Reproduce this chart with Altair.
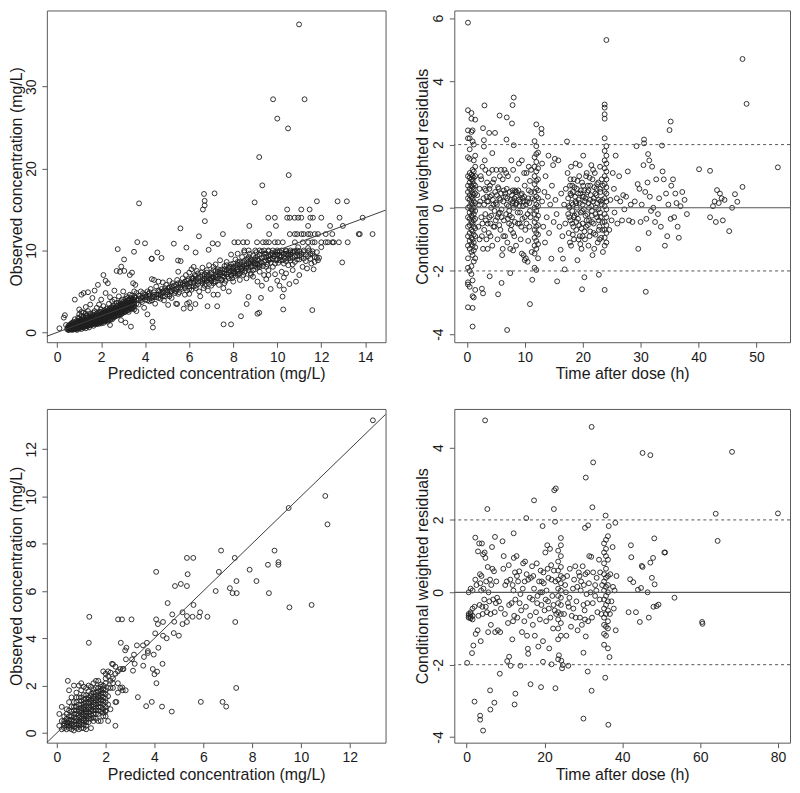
import altair as alt
import pandas as pd

FONT = "Liberation Sans"

# ---------------- Panel A (top left): observed vs predicted, dataset 1 ----------------
a_outliers = [
    (10.99, 37.6), (9.81, 28.46), (11.24, 28.46), (10.0, 26.1), (10.49, 24.9), (9.18, 21.4),
    (10.52, 19.2), (9.32, 17.95), (6.67, 16.9), (7.15, 16.97), (6.70, 16.06), (6.70, 15.5),
    (6.62, 15.0), (3.72, 15.75), (8.97, 15.87), (6.71, 13.58), (5.60, 12.7), (7.53, 12.0),
    (6.44, 11.73), (3.64, 11.02), (3.99, 10.87), (5.30, 10.83), (5.87, 10.35), (2.75, 10.16),
    (3.49, 9.84), (6.29, 9.76), (7.06, 10.87), (7.30, 10.79), (6.88, 10.08), (4.55, 9.76),
    (4.74, 9.09), (4.29, 8.98), (3.04, 8.9), (5.49, 8.78), (5.61, 8.70), (2.91, 8.03),
    (12.95, 8.54), (7.56, 0.98), (7.90, 0.98), (8.35, 1.97), (9.10, 2.28), (9.18, 2.4),
    (10.27, 2.8), (11.59, 2.72), (4.35, 0.59), (4.33, 1.3), (8.61, 3.46), (8.69, 4.33),
    (9.26, 4.21), (10.24, 4.37), (10.30, 5.24), (6.83, 3.19), (7.27, 3.19), (6.05, 2.95),
    (6.0, 3.66), (5.45, 3.46), (5.04, 3.35), (6.28, 3.46), (13.75, 12.0),
]
# observations reported as whole numbers: (observed, [predicted, ...])
a_rows = [
    (10, [8.5, 8.7, 9.0, 9.2, 9.4, 9.6, 9.8, 10.0, 10.2, 10.4, 10.6, 10.9, 11.2]),
    (11, [8.05, 8.22, 8.45, 8.63, 9.08, 9.35, 9.49, 9.62, 9.89, 10.03, 10.25, 10.8, 11.16,
          11.4, 11.6, 11.7, 12.0, 12.2, 12.3, 12.5, 12.56, 12.8, 13.2]),
    (12, [9.63, 10.57, 10.8, 10.9, 11.1, 11.2, 11.4, 11.5, 11.7, 11.85, 12.2, 12.5, 13.7, 14.33]),
    (13, [8.73, 9.94, 11.4, 12.4, 12.98]),
    (14, [9.59, 9.89, 10.45, 10.57, 10.79, 10.95, 11.09, 11.5, 11.62, 12.0, 12.83, 13.88]),
    (15, [10.45, 11.09, 11.47]),
    (16, [11.8, 12.74, 13.16]),
]
# dense cloud near the origin: (predicted, [observed, ...])
a_core = [
    (0.5, [0.35, 0.55, 0.75]), (0.6, [0.45, 0.65, 0.95]), (0.7, [0.4, 0.7, 1.2]),
    (0.8, [0.55, 0.95, 1.6]), (0.9, [0.5, 0.85, 1.15]), (1.0, [0.6, 0.95, 1.4, 1.7]),
    (1.1, [0.65, 1.2, 1.55, 2.5]), (1.2, [0.75, 1.05, 1.35, 1.9]), (1.3, [0.8, 1.15, 1.6, 2.3]),
    (1.4, [0.9, 1.25, 1.55, 1.85]), (1.5, [0.85, 1.15, 1.45, 1.75, 2.3]),
    (1.6, [1.0, 1.35, 1.55, 1.9]), (1.7, [1.0, 1.3, 1.6, 2.1]), (1.8, [1.1, 1.45, 1.75, 2.0]),
    (1.9, [1.05, 1.35, 1.7, 2.4]), (2.0, [1.3, 1.5, 1.85, 2.05, 2.5]),
    (2.1, [1.15, 1.6, 1.75, 2.2]), (2.2, [1.4, 1.65, 2.0, 2.4]), (2.3, [1.55, 1.85, 2.15, 2.7]),
    (2.4, [1.5, 2.0, 2.3, 2.9]), (2.5, [1.9, 2.1, 2.6, 3.1]), (2.6, [2.0, 2.2, 2.4, 2.9]),
    (2.7, [2.05, 2.35, 2.6, 3.2]), (2.8, [2.3, 2.55, 2.85, 3.6]), (2.9, [2.2, 2.45, 3.2, 3.8]),
    (3.0, [2.6, 2.75, 3.15, 3.7]), (3.1, [2.5, 3.0, 3.3, 4.1]), (3.2, [2.7, 3.3, 3.6, 4.2]),
    (3.3, [2.9, 3.1, 3.6, 4.0]), (3.4, [3.0, 3.3, 3.8, 4.5]), (3.5, [2.8, 3.5, 3.9, 4.3]),
    (0.55, [0.3, 0.45, 0.6, 0.9]), (0.65, [0.35, 0.55, 0.8, 1.05]),
    (0.75, [0.45, 0.65, 0.85, 1.0]), (0.85, [0.4, 0.6, 0.75, 1.2]),
    (0.95, [0.45, 0.65, 1.0, 1.25]), (1.05, [0.55, 0.85, 1.1, 1.3]),
    (1.15, [0.6, 0.95, 1.15, 1.7]), (1.25, [0.7, 1.0, 1.3, 1.5]),
    (1.35, [0.75, 1.05, 1.4, 2.1]), (1.45, [0.95, 1.2, 1.35, 1.7]),
    (1.55, [1.05, 1.25, 1.45, 2.0]), (1.65, [1.1, 1.3, 1.65, 2.4]),
    (1.75, [1.15, 1.4, 1.7, 1.85]), (1.85, [1.2, 1.5, 1.6, 2.2]),
    (1.95, [1.25, 1.55, 1.8, 2.15]), (2.05, [1.4, 1.6, 1.95, 2.35]),
    (2.15, [1.35, 1.7, 1.95, 2.45]), (2.25, [1.5, 1.8, 2.05, 2.6]),
    (2.35, [1.6, 1.95, 2.2, 2.75]), (2.45, [1.7, 2.05, 2.4, 2.65]),
    (2.55, [1.8, 2.15, 2.5, 3.0]), (2.65, [1.95, 2.25, 2.55, 2.85]),
    (2.75, [2.1, 2.4, 2.7, 3.3]), (2.85, [2.2, 2.6, 2.9, 3.4]),
    (2.95, [2.35, 2.65, 3.0, 3.5]), (3.05, [2.5, 2.85, 3.35]), (3.15, [2.65, 3.05, 3.6]),
    (3.25, [2.75, 3.2, 3.9]), (3.35, [2.9, 3.4, 4.2]), (3.45, [3.1, 3.6, 4.0]),
]
a_low = [
    (0.1, 0.5), (0.3, 1.8), (0.35, 2.1), (0.4, 0.9), (0.45, 0.4), (0.5, 0.3), (0.5, 0.6),
    (0.55, 0.5), (0.6, 0.8), (0.6, 0.4), (0.65, 0.7), (0.65, 1.1), (0.7, 0.3), (0.7, 0.5),
    (0.7, 0.9), (0.75, 0.6), (0.75, 1.3), (0.8, 0.4), (0.8, 0.8), (0.8, 4.0), (0.85, 1.0),
    (0.85, 0.5), (0.9, 0.7), (0.9, 1.4), (0.9, 0.3), (0.95, 0.9), (0.95, 1.8), (1.0, 0.5),
    (1.0, 1.1), (1.0, 2.2), (1.0, 0.8), (1.0, 2.8),
    (1.05, 0.7), (1.05, 1.5), (1.1, 0.4), (1.1, 1.0), (1.1, 2.0), (1.1, 4.6), (1.15, 1.3),
    (1.15, 0.8), (1.2, 0.6), (1.2, 1.6), (1.2, 2.4), (1.2, 4.8), (1.25, 1.1), (1.25, 0.9),
    (1.3, 1.4), (1.3, 0.5), (1.3, 2.0), (1.3, 3.1), (1.35, 1.2), (1.35, 1.8), (1.4, 0.8),
    (1.4, 1.0), (1.4, 2.6), (1.4, 4.9), (1.45, 1.5), (1.45, 0.6), (1.5, 1.3), (1.5, 1.9),
    (1.5, 1.0), (1.5, 3.4), (1.55, 1.6), (1.55, 0.9), (1.6, 1.2), (1.6, 2.2), (1.6, 1.7),
    (1.6, 4.2), (1.65, 1.4), (1.65, 0.8), (1.7, 1.8), (1.7, 1.1), (1.7, 2.6), (1.7, 5.1),
    (1.75, 1.5), (1.75, 2.0), (1.8, 1.3), (1.8, 1.0), (1.8, 2.3), (1.8, 3.0), (1.85, 1.7),
    (1.85, 5.8), (1.9, 1.5), (1.9, 2.1), (1.9, 1.2), (1.9, 3.4), (1.95, 1.9), (1.95, 2.5),
    (2.0, 1.6), (2.0, 1.1), (2.0, 2.2), (2.0, 2.8), (2.0, 4.0),
    (2.05, 1.8), (2.05, 1.3), (2.1, 2.4), (2.1, 2.0), (2.1, 7.0), (2.1, 3.2), (2.15, 1.5),
    (2.15, 2.7), (2.2, 1.9), (2.2, 2.2), (2.2, 6.3), (2.2, 4.8), (2.25, 1.7), (2.25, 2.9),
    (2.3, 2.1), (2.3, 2.5), (2.3, 1.3), (2.3, 6.0), (2.35, 3.5), (2.35, 2.3), (2.4, 1.8),
    (2.4, 2.6), (2.4, 4.3), (2.4, 0.9), (2.45, 2.0), (2.45, 3.0), (2.5, 2.4), (2.5, 2.8),
    (2.5, 1.6), (2.5, 3.8), (2.55, 2.2), (2.55, 3.3), (2.6, 2.6), (2.6, 1.9), (2.6, 4.0),
    (2.6, 5.1), (2.65, 3.0), (2.65, 2.3), (2.7, 2.8), (2.7, 3.6), (2.7, 7.5), (2.75, 2.5),
    (2.8, 3.2), (2.8, 2.1), (2.8, 4.4), (2.85, 3.0), (2.85, 7.4), (2.9, 2.7), (2.9, 3.5),
    (2.9, 1.5), (2.95, 3.1), (2.95, 4.0), (3.0, 2.9), (3.0, 3.4), (3.0, 2.4), (3.0, 5.0),
    (3.05, 3.2), (3.05, 7.5), (3.1, 3.7), (3.1, 2.8), (3.1, 1.2), (3.15, 3.4), (3.15, 4.4),
    (3.2, 3.0), (3.2, 3.9), (3.25, 3.6), (3.25, 2.5), (3.3, 3.3), (3.3, 4.6), (3.3, 7.0),
    (3.35, 3.8), (3.35, 0.7), (3.4, 3.5), (3.4, 2.9), (3.4, 7.3), (3.45, 4.1), (3.45, 6.0),
    (3.5, 3.7), (3.5, 3.2), (3.5, 5.0), (3.55, 4.3), (3.55, 5.8), (3.6, 3.9), (3.6, 4.8),
    (3.6, 2.6), (3.7, 4.5), (3.7, 3.4), (3.8, 4.2), (3.8, 5.0), (3.85, 3.7), (3.9, 4.4),
    (3.9, 4.8), (3.95, 3.0), (4.0, 4.6), (4.0, 4.0),
]
a_mid = [
    (4.05, 4.3), (4.1, 5.0), (4.1, 2.2), (4.15, 4.7), (4.2, 3.8), (4.2, 4.5), (4.25, 5.3),
    (4.3, 6.5), (4.3, 9.0), (4.35, 4.4), (4.4, 4.9), (4.4, 6.4), (4.45, 3.5), (4.5, 4.6),
    (4.5, 5.6), (4.6, 4.2), (4.6, 6.2), (4.65, 5.0), (4.7, 4.5), (4.75, 5.3), (4.8, 4.8),
    (4.8, 6.1), (4.85, 3.9), (4.9, 5.1), (4.9, 4.4), (4.95, 5.8), (5.0, 4.9), (5.05, 5.4),
    (5.1, 4.6), (5.1, 6.3), (5.15, 5.0), (5.2, 5.6), (5.2, 4.2), (5.25, 6.0), (5.3, 5.2),
    (5.35, 4.8), (5.4, 5.8), (5.4, 3.5), (5.45, 6.4), (5.5, 5.5), (5.5, 7.4), (5.55, 4.9),
    (5.6, 6.0), (5.65, 5.3), (5.7, 6.6), (5.75, 5.7), (5.75, 2.9), (5.8, 6.2), (5.8, 4.6),
    (5.85, 7.0), (5.9, 5.9), (5.9, 3.5), (5.95, 6.5), (6.0, 5.6), (6.0, 7.3), (6.0, 4.7),
    (6.05, 6.1), (6.1, 7.7), (6.1, 5.2), (6.15, 6.6), (6.2, 6.0), (6.2, 8.0), (6.25, 7.0),
    (6.3, 5.7), (6.3, 6.4), (6.35, 7.5), (6.4, 6.2), (6.45, 5.0), (6.5, 6.8), (6.5, 4.4),
    (6.55, 7.3), (6.6, 6.0), (6.6, 7.9), (6.65, 5.4), (6.7, 6.6), (6.7, 7.1), (6.75, 5.9),
    (6.8, 7.6), (6.8, 6.3), (6.85, 5.1), (6.9, 7.0), (6.9, 8.2), (6.95, 6.5), (7.0, 7.3),
    (7.0, 5.7), (7.05, 6.8), (7.1, 7.6), (7.1, 4.6), (7.15, 6.2), (7.2, 7.0), (7.2, 8.3),
    (7.25, 6.6), (7.3, 7.4), (7.3, 4.6), (7.35, 5.8), (7.4, 7.1), (7.4, 8.8), (7.45, 6.4),
    (7.5, 7.7), (7.5, 6.9), (7.55, 5.4), (7.6, 8.1), (7.6, 7.2), (7.65, 6.3), (7.7, 7.6),
    (7.7, 8.6), (7.75, 6.8), (7.8, 7.3), (7.8, 5.0), (7.85, 8.0), (7.9, 7.0), (7.9, 9.5),
    (7.95, 6.6), (8.0, 7.8), (8.0, 8.4), (8.0, 6.2),
]
a_high = [
    (8.05, 7.4), (8.1, 8.9), (8.1, 6.9), (8.15, 7.9), (8.2, 8.3), (8.2, 9.6), (8.25, 7.1),
    (8.3, 8.6), (8.3, 6.4), (8.35, 7.7), (8.4, 9.2), (8.4, 8.0), (8.45, 7.0), (8.5, 8.7),
    (8.5, 9.8), (8.55, 7.5), (8.6, 8.3), (8.6, 6.6), (8.65, 9.0), (8.7, 7.9), (8.7, 8.6),
    (8.75, 9.6), (8.8, 7.2), (8.8, 8.9), (8.85, 8.1), (8.9, 9.4), (8.9, 6.8), (8.95, 8.5),
    (9.0, 7.7), (9.0, 9.1), (9.05, 9.8), (9.1, 8.3), (9.1, 6.2), (9.15, 8.8), (9.2, 7.4),
    (9.2, 9.5), (9.25, 8.6), (9.3, 9.9), (9.3, 5.7), (9.35, 8.1), (9.4, 9.2), (9.4, 7.0),
    (9.45, 8.8), (9.5, 9.6), (9.5, 6.5), (9.55, 8.3), (9.6, 9.9), (9.6, 7.6), (9.65, 9.0),
    (9.7, 8.5), (9.7, 5.3), (9.75, 9.7), (9.8, 8.0), (9.85, 9.3), (9.9, 7.1), (9.9, 9.8),
    (9.95, 8.8), (10.0, 9.5), (10.0, 6.3), (10.05, 8.5), (10.1, 9.9), (10.1, 5.7),
    (10.15, 9.2), (10.2, 7.4), (10.25, 8.8), (10.3, 9.6), (10.3, 6.7), (10.35, 9.0),
    (10.4, 7.2), (10.5, 9.4), (10.5, 8.2), (10.55, 5.9), (10.6, 9.8), (10.6, 8.8),
    (10.7, 9.1), (10.7, 7.6), (10.75, 9.9), (10.8, 8.6), (10.85, 6.2), (10.9, 9.3),
    (10.95, 10.4), (11.0, 8.9), (11.0, 7.0), (11.1, 9.6), (11.15, 8.0), (11.2, 9.0),
    (11.3, 9.5), (11.35, 7.8), (11.4, 10.3), (11.5, 9.0), (11.55, 8.4), (11.6, 9.9),
    (11.65, 7.7), (11.7, 9.2), (11.8, 9.8), (11.85, 8.8), (11.9, 9.1), (12.0, 10.4),
    (11.45, 10.0),
]
a_band = [
    (3.6, 3.5), (3.7, 4.1), (3.8, 3.9), (3.9, 4.2), (4.0, 4.3), (4.1, 3.9), (4.2, 4.9),
    (4.3, 4.2), (4.4, 4.6), (4.5, 4.3), (4.6, 5.1), (4.7, 4.8), (4.8, 4.4), (4.9, 5.4),
    (5.0, 5.1), (5.1, 5.5), (5.2, 5.0), (5.3, 5.7), (5.4, 5.3), (5.5, 6.0), (5.6, 5.5),
    (5.7, 5.9), (5.8, 5.4), (5.9, 6.3), (6.0, 6.0), (6.1, 6.6), (6.2, 5.6), (6.3, 6.9),
    (6.4, 6.6), (6.5, 6.2), (6.6, 7.0), (6.7, 6.4), (6.8, 6.9), (6.9, 6.6), (7.0, 7.1),
    (7.1, 6.7), (7.2, 7.5), (7.3, 6.9), (7.4, 7.6), (7.5, 7.3), (7.6, 7.7), (7.7, 7.1),
    (7.8, 7.9), (7.9, 7.5), (8.0, 7.2), (8.1, 8.1), (8.2, 7.7), (8.3, 8.3), (8.4, 7.5),
    (8.5, 8.2), (8.6, 8.9), (8.7, 8.4), (8.8, 8.0), (8.9, 8.7), (9.0, 8.4), (9.1, 8.9),
    (9.2, 8.2), (9.3, 9.1), (9.4, 8.6), (9.5, 9.2), (9.6, 8.8), (9.7, 9.4), (9.8, 9.0),
    (9.9, 9.5), (10.0, 8.9), (10.1, 9.4), (10.2, 9.7), (10.3, 9.2), (10.4, 9.6), (10.5, 9.0),
    (10.6, 9.5), (10.7, 9.8), (10.8, 9.3), (10.9, 9.7), (11.0, 9.4), (11.2, 9.8), (11.4, 9.3),
    (11.6, 9.6), (11.8, 9.1),
    (6.2, 6.3), (6.4, 7.2), (6.6, 6.5), (6.8, 7.3), (7.0, 6.3), (7.1, 8.0), (7.3, 7.7),
    (7.4, 6.6), (7.6, 7.5), (7.7, 8.2), (7.8, 6.6), (7.9, 8.3), (8.0, 7.5), (8.1, 7.2),
    (8.2, 8.6), (8.3, 7.9), (8.4, 8.5), (8.5, 7.3), (8.6, 7.9), (8.7, 9.2), (8.8, 8.4),
    (8.9, 7.6), (9.0, 8.8), (9.1, 9.3), (9.2, 8.0), (9.3, 8.5), (9.4, 9.6), (9.5, 8.0),
    (9.6, 9.3), (9.7, 8.9), (9.8, 9.5), (9.9, 8.4), (10.0, 9.8), (10.1, 8.8), (10.2, 9.3),
    (10.3, 8.4), (10.4, 9.9), (10.5, 9.7), (10.6, 9.1), (10.7, 8.3), (10.8, 9.9),
    (10.9, 8.9), (11.0, 9.9), (11.1, 9.2), (11.3, 8.7), (11.5, 9.6), (11.7, 8.6),
    (8.2, 7.0), (8.8, 7.0), (9.6, 7.0), (10.4, 8.7), (7.2, 6.2), (6.9, 5.9), (7.6, 6.0),
    (4.2, 4.1), (4.4, 4.3), (4.6, 4.6), (4.8, 5.0), (5.0, 4.6), (5.2, 5.3), (5.4, 5.0),
    (5.6, 5.8), (5.8, 5.9), (6.0, 5.3), (6.2, 6.6), (6.4, 5.9), (6.6, 6.3), (6.8, 6.6),
    (7.0, 6.6), (7.2, 6.8), (7.4, 7.3), (7.6, 6.8), (7.8, 7.6), (8.0, 8.0), (8.2, 7.4),
    (8.4, 7.8), (8.6, 8.1), (8.8, 8.7), (9.0, 8.1), (4.3, 3.9), (4.7, 4.1), (5.1, 4.4),
    (5.5, 4.7), (5.9, 5.1), (6.3, 5.4), (6.7, 5.7), (7.1, 6.0), (7.5, 6.4), (7.9, 6.9),
    (8.3, 7.2), (8.7, 7.6), (9.1, 7.9),
]

# ---------------- Panel B (top right): CWRES vs time after dose, dataset 1 ----------------
b_col0 = [
    (0.2, [-1.9, -1.6, -1.2, -0.9, -0.6, -0.3, 0.0, 0.3, 0.5, 0.7, 1.0, 1.6, 2.2, 2.45, 3.09,
           5.86, -2.36, -2.43, -3.15]),
    (0.5, [-1.3, -1.05, -0.8, -0.55, -0.35, -0.15, 0.05, 0.25, 0.4, 0.6, 0.8, 0.95, 1.1, 1.55,
           1.85, 2.2, -2.0, -2.5]),
    (0.8, [-1.4, -1.15, -0.95, -0.7, -0.45, -0.25, -0.05, 0.15, 0.35, 0.55, 0.7, 0.9, 1.05,
           2.4, 2.82, 3.0, -1.85, -2.1]),
    (1.0, [-1.5, -1.2, -1.0, -0.75, -0.5, -0.3, -0.1, 0.1, 0.3, 0.45, 0.65, 0.85, 1.0, 1.2,
           2.1, 2.45, -2.3, -2.8, -3.17, -3.76]),
    (1.2, [-1.35, -1.1, -0.85, -0.6, -0.4, -0.2, 0.0, 0.2, 0.4, 0.6, 0.75, 0.95, 1.15, 1.5,
           2.0, -1.7, -2.84]),
    (1.45, [-1.6, -1.25, -0.9, -0.65, -0.35, -0.1, 0.15, 0.45, 0.7, 1.0, 1.3, 1.65, 2.79, -2.6]),
]
b_early = [
    (2.2, 0.6), (2.5, -0.3), (2.5, 0.9), (2.7, 1.3), (2.8, -1.3), (2.9, 0.3), (3.0, -0.7),
    (3.0, 0.1), (3.1, 1.5), (3.2, -0.2), (3.3, 0.55), (3.4, -1.0), (3.5, 0.8), (3.6, -0.5),
    (3.7, 0.2), (3.8, 1.1), (3.9, -0.3), (4.0, 0.7), (4.1, -0.9), (4.2, 0.0), (4.3, 0.4),
    (4.4, -1.2), (4.5, 0.25), (4.6, -0.6), (4.7, 0.9), (4.8, -0.1), (4.9, 0.5), (5.0, -0.4),
    (5.1, 1.2), (5.2, 0.1), (5.3, -1.0), (5.4, 0.65), (5.5, -0.2), (5.6, 0.3), (5.7, 1.0),
    (5.8, -0.7), (5.9, 0.45), (6.0, -0.05), (6.1, -1.5), (6.2, 0.9), (6.3, 0.2), (6.4, -0.4),
    (6.5, 1.2), (6.6, -0.9), (6.7, 0.35), (6.8, -0.2), (6.9, 0.6), (7.0, -1.1), (7.1, 1.0),
    (7.2, 0.05), (7.3, -0.5), (7.4, 0.5), (7.5, -1.3), (7.6, 0.25), (7.7, 1.5), (7.8, -0.3),
    (7.9, 0.55), (8.0, -0.8), (8.0, 1.2), (8.1, 0.0), (8.2, 0.3), (8.3, -0.45), (8.4, 0.5),
    (8.5, -1.2), (8.6, 0.15), (8.7, 0.9), (8.8, -0.15), (8.9, 0.55), (9.0, 1.4), (9.1, -0.5),
    (9.2, 0.2), (9.3, -1.0), (9.4, 0.4), (9.5, 1.5), (9.6, -0.35), (9.7, 0.05), (9.8, -1.5),
    (9.9, 0.35), (10.0, 0.7), (10.1, -0.7), (10.2, -1.6), (10.3, 1.1), (10.4, 0.2),
    (10.5, -0.2), (10.6, -1.05), (10.7, 0.55), (10.8, -0.6), (10.9, 0.85), (11.0, -0.3),
    (11.1, 1.2), (11.2, -1.4), (11.3, 0.3),
    (1.8, 0.4), (2.0, -0.6), (2.1, 0.1), (2.4, 1.0), (2.6, -0.9), (3.1, 0.6), (3.3, -0.4),
    (3.5, 0.2), (3.8, -0.8), (4.0, 0.35), (4.2, -0.25), (4.5, 0.8), (4.8, -0.6), (5.0, 0.15),
    (5.3, -0.3), (5.5, 0.6), (5.8, 0.25), (6.0, -0.3), (6.3, -0.9), (6.6, 0.45), (6.8, 1.1),
    (7.0, 0.3), (7.3, -0.1), (7.6, -0.7), (7.8, 0.4), (8.0, 0.2), (8.2, -0.9), (8.4, 0.1),
    (8.6, 0.5), (8.8, -0.5), (9.0, 0.25), (9.2, -0.15), (9.5, 0.45), (9.8, 0.2), (10.0, -0.3),
    (10.3, -0.5), (10.6, 0.3), (10.9, -0.1), (11.1, 0.5), (8.3, 0.55), (7.1, -0.35),
    (5.9, 1.2), (4.4, 1.2), (3.2, 1.2), (9.9, 1.1), (10.7, 1.3), (2.2, -1.0), (3.6, -1.3),
    (6.2, -1.3), (8.0, -1.35),
    (2.3, 0.2), (2.7, -0.5), (3.4, 0.35), (3.9, 0.6), (4.6, 0.1), (5.2, 0.4), (5.7, -0.15),
    (6.4, 0.55), (6.9, 0.1), (7.4, -0.25), (7.9, 0.15), (8.5, 0.35), (9.1, 0.05), (9.6, 0.3),
    (10.2, 0.1), (10.8, 0.15), (4.1, -0.5), (5.6, -0.55), (7.7, -0.55), (9.4, -0.6),
]
b_col12 = [
    (11.7, [-1.9, -1.45, -1.2, -0.95, -0.7, -0.45, -0.2, 0.0, 0.25, 0.5, 0.75, 1.0, 1.3, 1.6,
            2.11]),
    (12.0, [-1.97, -1.3, -1.05, -0.8, -0.6, -0.35, -0.1, 0.1, 0.35, 0.6, 0.85, 1.15, 1.45, 1.7,
            1.95, 2.64]),
    (12.3, [-1.6, -1.15, -0.85, -0.55, -0.25, 0.05, 0.3, 0.55, 0.9, 1.25, 1.75]),
]
b_mid = [
    (12.9, 2.5), (12.9, 2.35), (13.0, 1.4), (13.0, 0.2), (13.2, -0.6), (13.4, 0.5),
    (13.5, -1.1), (13.6, 1.0), (13.8, -0.3), (14.0, 0.35), (14.1, 1.65), (14.2, -0.8),
    (14.4, 0.1), (14.6, -1.61), (14.7, 0.7), (14.9, 1.35), (15.0, -0.45), (15.2, 1.55),
    (15.3, 0.25), (15.5, -0.2), (15.6, -2.33), (15.8, 1.5), (16.0, -0.6), (16.2, -1.33),
    (16.3, 0.45), (16.5, -0.9), (16.6, -1.61), (16.8, 0.1), (16.9, -1.95), (17.0, -0.5),
    (17.1, 0.6), (17.3, 2.1), (17.4, 1.1), (17.5, -0.2),
    (17.5, 0.3), (17.6, -0.8), (17.7, 0.0), (17.8, 0.7), (17.9, -0.4), (18.0, 1.3),
    (18.0, -1.2), (18.1, 0.15), (18.2, -0.1), (18.3, 0.5), (18.4, -0.6), (18.5, 0.9),
    (18.5, -1.0), (18.6, -0.25), (18.7, 0.35), (18.8, 1.4), (18.9, -0.7), (19.0, 0.0),
    (19.0, 0.6), (19.1, -1.66), (19.2, -0.35), (19.3, 0.25), (19.4, 1.0), (19.5, -0.9),
    (19.6, 0.45), (19.7, -0.15), (19.8, -1.3), (19.9, 0.8), (20.0, 0.1), (20.0, -0.5),
    (20.1, 1.65), (20.2, -0.05), (20.3, 0.55), (20.4, -1.0), (20.5, 0.3), (20.6, -0.6),
    (20.7, 1.1), (20.8, -0.2), (20.9, 0.7), (21.0, -1.2), (21.0, 0.15), (21.1, -0.4),
    (21.2, 0.95), (21.3, -0.75), (21.4, 0.4), (21.5, 1.35), (21.6, -0.1), (21.7, -1.5),
    (21.8, 0.2), (21.9, -0.5), (22.0, 0.65), (22.1, 1.1), (22.2, -0.85), (22.3, 0.0),
    (22.4, 0.4), (22.5, -0.3), (22.6, -1.1), (22.7, 0.8), (22.8, 0.25), (22.9, -0.6),
    (23.0, 1.3), (23.0, -0.15), (23.1, 0.5), (23.2, -0.95), (23.3, 0.1), (23.4, -0.45),
    (23.5, 0.7), (23.5, -1.4),
    (17.6, 0.05), (17.9, 0.45), (18.2, 0.7), (18.5, -0.3), (18.8, 0.2), (19.1, 0.85),
    (19.4, -0.55), (19.7, 0.55), (20.0, -0.9), (20.2, 0.35), (20.5, -0.25), (20.8, 0.5),
    (21.1, 0.0), (21.3, 0.7), (21.6, -0.45), (21.9, 0.3), (22.2, -0.2), (22.5, 0.15),
    (22.8, -0.7), (23.1, -0.3), (23.4, 0.25), (22.0, -1.3), (21.2, -0.9), (20.6, 1.0),
    (19.5, 1.35), (18.3, -0.85), (17.8, -1.1), (19.9, -0.1), (21.7, 0.9), (22.4, 0.6),
    (23.0, 0.6), (20.9, -0.55), (18.9, 0.15), (22.7, -0.05), (19.3, -1.0),
    (17.7, -0.3), (18.0, 0.4), (18.3, 0.1), (18.6, 0.65), (18.9, -0.45), (19.2, 0.45),
    (19.5, 0.15), (19.8, -0.65), (20.1, 0.7), (20.4, 0.2), (20.7, -0.4), (21.0, 0.55),
    (21.3, 0.25), (21.6, -0.25), (21.9, -0.8), (22.2, 0.45), (22.5, 0.75), (22.8, -0.4),
    (23.1, 0.2), (23.3, 0.9), (20.3, -0.75), (19.0, -0.2), (18.2, -0.5), (22.9, -1.0),
    (21.5, 0.05), (20.0, 0.35), (23.4, -0.7), (17.9, 0.9), (19.6, -1.15), (21.8, 1.2),
]
b_col24 = [
    (23.8, [-1.2, -0.95, -0.7, -0.45, -0.2, 0.05, 0.3, 0.5, 0.75, 1.0, 1.25, 1.5, 1.8, 2.2,
            2.82, 2.96, 3.17, 3.27, -2.6]),
    (24.1, [-1.1, -0.8, -0.55, -0.3, -0.05, 0.2, 0.45, 0.65, 0.9, 1.15, 1.4, 1.65, 1.95, 5.31]),
]
b_late = [
    (24.6, -0.7), (24.8, 0.25), (25.0, -0.4), (25.2, 1.1), (25.4, 0.6), (25.5, -0.15),
    (25.7, 1.65), (25.9, 0.3), (26.0, -0.5), (26.3, 1.0), (26.5, 0.2), (26.8, -0.4),
    (27.0, 0.4), (27.2, -0.05), (27.5, 0.35), (27.8, 1.15), (28.0, -0.4), (28.3, 0.1),
    (28.6, -0.45), (29.0, 0.2), (29.3, 1.95), (29.5, 0.75), (29.6, -1.3), (29.8, 0.6),
    (30.0, -0.45), (30.2, 0.1), (30.5, 1.35), (30.6, 2.16), (30.6, 2.04), (30.8, 0.5),
    (30.9, -2.66), (31.0, -0.35), (31.2, 0.8), (31.3, 1.7), (31.4, -0.8), (31.5, 1.5),
    (31.6, 0.35), (31.8, -0.1), (32.0, 1.3), (32.2, 0.0), (32.5, -0.45), (32.7, 0.9),
    (33.0, -0.2), (33.2, 0.3), (33.5, -0.6), (33.7, 1.97), (33.8, 1.15), (34.0, 0.9),
    (34.2, -1.2), (34.4, 0.45), (34.6, -0.9), (34.8, 0.1), (35.2, 2.73), (35.0, 2.46),
    (35.2, -0.35), (35.3, 0.7), (35.6, 0.9), (35.8, -0.3), (36.0, 0.45), (36.2, 0.15),
    (36.4, -0.6), (36.6, -0.95), (36.9, 0.05), (37.2, 0.5), (37.6, 0.25), (38.0, -0.2),
    (40.1, 1.22), (42.0, 1.17), (42.0, -0.3), (42.5, 0.05), (42.8, 0.2), (43.0, -0.45),
    (43.2, 0.56), (43.5, 0.15), (43.7, 0.45), (44.0, 0.3), (44.2, -0.4), (44.5, 0.25),
    (45.3, -0.74), (45.8, 0.0), (46.3, 0.43), (46.7, 0.19), (47.6, 4.71), (47.6, 0.66),
    (48.3, 3.29), (53.7, 1.28),
]
b_outliers = [
    (3.05, 3.24), (8.1, 3.49), (7.9, 3.25), (5.66, 2.92), (6.9, 2.86), (7.8, 2.67), (2.8, 2.52),
    (3.86, 2.37), (4.87, 2.37), (2.95, 2.14), (2.95, 1.94), (6.85, 2.16), (8.1, 1.98),
    (4.4, 1.73), (6.96, -3.87), (10.9, -3.05), (2.6, -2.56), (2.8, -2.71), (5.4, -2.74),
    (6.0, -2.38), (3.95, -2.17), (11.3, -2.28), (7.5, -2.07), (9.5, -1.45), (10.0, -1.66),
    (10.5, -1.71), (20.3, -2.2), (19.9, -2.58), (22.8, -2.12),
]

# ---------------- Panel C (bottom left): observed vs predicted, dataset 2 ----------------
c_core = [
    (0.1, [0.8, 0.3]), (0.2, [0.15, 0.5, 1.1]), (0.3, [0.2, 0.5, 0.3, 0.4, 0.7]),
    (0.4, [0.3, 0.6, 0.15, 1.0, 0.45, 0.8]), (0.45, [2.2, 0.45]),
    (0.5, [0.2, 0.4, 0.7, 1.3, 1.8, 0.3, 0.55, 0.95]),
    (0.6, [0.3, 0.55, 0.9, 0.15, 1.5, 0.4, 0.7, 1.1]),
    (0.7, [0.25, 0.5, 0.8, 1.1, 2.0, 0.1, 0.35, 0.65, 0.95, 1.3]),
    (0.8, [0.35, 0.6, 0.95, 1.3, 1.7, 0.2, 0.5, 0.8, 1.1, 1.5]),
    (0.9, [0.3, 0.5, 0.75, 1.0, 1.5, 2.0, 0.15, 0.4, 0.65, 0.9, 1.2]),
    (1.0, [0.2, 0.45, 0.7, 0.95, 1.2, 1.5, 1.8, 2.1, 0.35, 0.6, 0.85, 1.05, 1.35]),
    (1.1, [0.35, 0.6, 0.85, 1.1, 1.4, 1.95, 0.2, 0.5, 0.75, 1.0, 1.25, 1.6]),
    (1.2, [0.3, 0.55, 0.8, 1.0, 1.3, 1.6, 1.9, 0.15, 0.45, 0.7, 0.9, 1.15, 1.45]),
    (1.3, [0.45, 0.7, 1.0, 1.25, 1.5, 1.75, 2.0, 0.6, 0.85, 1.1, 1.4]),
    (1.4, [0.2, 0.6, 0.9, 1.15, 1.4, 1.65, 1.95, 0.75, 1.0, 1.3, 1.55]),
    (1.5, [0.5, 0.8, 1.1, 1.3, 1.55, 1.85, 2.1, 0.65, 0.95, 1.2, 1.45, 1.7]),
    (1.6, [0.6, 0.95, 1.2, 1.45, 1.7, 2.2, 0.8, 1.05, 1.35, 1.6, 1.9]),
    (1.7, [0.5, 0.8, 1.1, 1.35, 1.6, 1.9, 2.2, 0.95, 1.25, 1.5, 1.75]),
    (1.8, [0.5, 0.9, 1.25, 1.55, 1.8, 2.05, 1.1, 1.4, 1.65, 1.95]),
    (1.9, [0.7, 1.0, 1.35, 1.7, 2.0, 2.6, 0.85, 1.2, 1.5, 1.85]),
    (2.0, [0.7, 0.95, 1.3, 1.65, 2.3, 2.5, 0.9, 1.1, 1.45, 1.8, 2.1]),
    (2.1, [0.5, 1.2, 1.55, 1.9, 2.4, 2.6]),
    (2.2, [1.0, 1.9, 2.2, 2.55]), (2.3, [1.9, 2.3, 2.9, 2.1]), (2.4, [1.3, 2.5, 2.8]),
    (2.5, [1.7, 2.6, 2.1]), (2.6, [1.9, 2.7]), (2.7, [1.8, 2.7]),
]
c_points = [
    (12.95, 13.22), (11.0, 10.02), (11.09, 8.82), (9.5, 9.51), (8.92, 7.71), (6.73, 7.71),
    (7.29, 7.4), (5.33, 7.4), (5.59, 7.4), (4.07, 6.81), (6.64, 6.81), (7.9, 6.9),
    (8.65, 7.11), (9.08, 7.22), (9.08, 7.11), (5.36, 6.71), (4.84, 6.21), (5.08, 6.3),
    (5.33, 6.21), (8.18, 6.42), (7.36, 6.42), (6.51, 6.0), (7.09, 6.12), (7.2, 5.91),
    (7.37, 5.91), (8.69, 5.91), (9.53, 5.31), (10.44, 5.41), (4.54, 5.49), (5.6, 5.41),
    (5.87, 5.1), (5.15, 5.1), (5.33, 4.94), (5.56, 4.91), (5.83, 4.91), (6.17, 4.91),
    (4.73, 5.01), (1.33, 4.91), (2.51, 4.8), (2.67, 4.8), (3.06, 4.8), (4.07, 4.8),
    (5.33, 4.69), (7.31, 4.69), (4.14, 4.6), (4.35, 4.69), (4.81, 4.7), (5.15, 4.6),
    (4.03, 4.21), (4.79, 4.22), (5.0, 4.11), (4.35, 4.11), (4.5, 4.0), (1.31, 3.81),
    (2.62, 3.81), (3.69, 3.81), (3.53, 3.7), (3.28, 3.7), (2.85, 3.6), (2.8, 3.49),
    (3.73, 3.46), (3.73, 3.38), (4.16, 3.6), (3.97, 3.31), (3.16, 3.31), (2.83, 3.11),
    (3.08, 3.11), (3.57, 3.21), (4.33, 2.92), (3.19, 2.92), (2.26, 2.92), (3.93, 2.7),
    (4.11, 2.59), (4.0, 2.48), (3.54, 2.84), (2.73, 2.7), (3.12, 2.63), (4.08, 2.1),
    (7.35, 1.9), (3.32, 1.51), (3.89, 1.31), (3.66, 1.13), (4.31, 1.11), (4.71, 0.9),
    (5.9, 1.31), (6.79, 1.31), (6.94, 1.11), (2.4, 0.3), (2.44, 1.31), (2.68, 1.92),
    (2.82, 1.8),
]

# ---------------- Panel D (bottom right): CWRES vs time after dose, dataset 2 ----------------
d_cols = [
    (0.5, [-0.6, -0.65, -0.7, 0.0]), (1.0, [-0.6, -0.72, -0.68, 0.1, -0.55]),
    (1.5, [-0.75, -0.65, 0.05, -0.45]),
    (23.5, [-1.0, -0.75, -0.55, -0.3, -0.1, 0.1, 0.35, 0.6, 0.85, 1.15, -1.3, -1.85]),
    (24.2, [-0.85, -0.6, -0.35, -0.15, 0.05, 0.25, 0.45, 0.7, 1.0, 1.3, 1.5, -1.2]),
    (35.3, [-1.15, -0.9, -0.7, -0.45, -0.2, 0.05, 0.3, 0.5, 0.8, 1.1, 1.35, -1.45]),
    (35.8, [-1.2, -0.95, -0.6, -0.35, -0.1, 0.15, 0.4, 0.65, 1.0, 1.2, 1.45]),
    (36.3, [-1.0, -0.8, -0.5, -0.25, 0.0, 0.2, 0.45, 0.9, 1.55, -1.55]),
]
d_points = [
    (2.0, -0.4), (2.2, 0.35), (2.3, -1.15), (2.5, 0.2), (2.8, -1.05), (2.9, 1.13), (3.0, -0.65),
    (3.2, 1.35), (3.3, -0.35), (3.4, 0.5), (3.6, -1.35), (3.7, 0.05), (3.8, 0.45), (3.9, 1.35),
    (4.0, -0.4), (4.2, 1.05), (4.3, 0.1), (4.5, -0.2), (4.6, 1.1), (4.8, 0.95), (4.9, -0.4),
    (5.0, 0.3), (5.2, -0.55), (5.5, -1.1), (5.6, 0.0), (5.8, -0.25), (6.0, 0.35), (6.1, -0.6),
    (6.3, 0.2), (6.5, 1.25), (6.6, 0.65), (6.8, -0.2), (7.0, 0.58), (7.2, -0.55), (7.3, -1.1),
    (7.5, -0.3), (7.8, -0.15), (8.0, -1.05), (8.3, -0.25), (8.6, -1.1), (9.2, 1.41),
    (9.4, 0.65), (9.5, 1.0), (9.8, -0.6), (10.3, 0.3), (10.6, -0.85), (10.8, 0.75),
    (11.2, 0.35), (11.5, -0.3), (11.7, -1.3), (11.8, 0.2), (12.1, 0.95), (12.2, -0.65),
    (12.4, 0.55), (12.5, -0.2), (12.8, 1.0), (13.0, -0.7), (13.2, 0.3), (13.5, 0.58),
    (13.8, -0.05), (14.0, -0.5), (14.2, -1.1), (14.5, 0.8), (14.8, -0.8), (15.0, 0.85),
    (15.2, -0.4), (15.5, -1.2), (15.8, 0.35), (16.2, -0.15), (16.5, 0.4), (16.8, 0.72),
    (17.0, -0.9), (17.3, 0.1), (17.5, -1.2), (17.8, -0.55), (18.0, 0.8), (18.2, -0.1),
    (18.4, -1.5), (18.6, 0.3), (18.8, -0.75), (19.0, 0.6), (19.2, -0.35), (19.4, 0.0),
    (19.6, -1.35), (19.8, 0.25), (20.0, -0.5), (20.2, 1.1), (20.4, -0.8), (20.5, 0.05),
    (20.7, 1.3), (20.9, -0.25), (21.0, 0.4), (21.2, -1.55), (21.4, 1.2), (21.5, -0.7),
    (21.8, 0.35), (22.0, -0.1), (22.2, -1.0), (22.4, 0.6), (22.6, -0.5),
    (25.0, -0.6), (25.3, 0.2), (25.6, -1.2), (25.8, 0.45), (26.2, -0.4), (26.5, 0.65),
    (26.8, -0.95), (27.0, -0.65), (27.3, 0.1), (27.6, 0.35), (27.9, 0.72), (28.2, -0.25),
    (28.5, -1.05), (28.8, 0.55), (29.1, -0.7), (29.4, 0.3), (29.6, -0.9), (29.8, 0.72),
    (30.0, -0.35), (30.1, 0.2), (30.3, -0.5), (30.5, 0.5), (30.6, -1.22), (30.8, -0.05),
    (31.0, 0.55), (31.2, -0.8), (31.5, 1.0), (31.8, 0.0), (32.0, 0.98), (32.2, -0.7),
    (32.5, 0.55), (33.0, -0.1), (33.3, 0.05), (33.6, -0.55), (34.0, 0.9), (34.3, 0.55),
    (34.6, -0.6), (36.9, 0.5), (37.2, -0.25), (37.5, 1.25), (37.8, -0.45), (38.0, 0.05),
    (38.3, -1.05), (38.5, 0.45), (41.6, -0.55), (42.0, 0.36), (42.3, 0.97), (42.8, 0.28),
    (43.5, -0.55), (44.0, 0.07), (44.5, -0.82), (44.8, 0.12), (45.0, 0.73), (45.2, 0.7),
    (46.5, 0.0), (46.8, -0.7), (47.2, 0.82), (47.6, 0.4), (47.9, 0.95), (48.3, 0.22),
    (48.0, -0.4), (48.8, -0.38), (49.3, -0.34), (50.8, 1.1), (53.4, -0.15), (60.5, -0.82),
    (60.6, -0.87),
    (3.5, 0.25), (4.1, -0.6), (5.4, 0.7), (6.2, -0.9), (7.6, 0.3), (8.8, -0.45), (9.9, 0.2),
    (10.9, -0.35), (11.9, -0.8), (12.9, 0.45), (13.6, -0.3), (14.4, 0.1), (15.4, 0.5),
    (16.3, -0.65), (17.1, 0.45), (18.1, -0.3), (18.9, 0.0), (19.7, 0.55), (20.3, -0.2),
    (21.1, -0.45), (21.7, 0.75), (22.3, -0.35), (22.8, 0.3), (25.5, 0.0), (26.4, -0.15),
    (27.4, -0.45), (28.4, 0.15), (29.3, 0.05), (30.4, -0.75), (31.4, 0.25), (32.4, -0.3),
    (33.4, 0.4), (34.2, -0.2), (34.8, 0.2), (36.8, -0.6), (37.6, 0.15), (12.0, 0.05),
    (14.9, 0.3), (16.9, -0.2), (19.3, 0.3), (20.8, 0.65), (23.0, -0.6), (24.8, 0.4),
    (26.0, -0.3), (28.0, -0.7), (29.0, 0.45), (31.0, -0.3), (33.0, 0.2),
]
d_outliers = [
    (4.72, 4.75), (32.1, 4.57), (32.5, 3.59), (30.6, 3.17), (45.2, 3.85), (47.2, 3.79),
    (68.2, 3.88), (64.0, 2.17), (64.5, 1.42), (80.0, 2.18), (22.9, 2.87), (22.5, 2.82),
    (5.3, 2.3), (17.3, 2.54), (22.4, 2.3), (22.7, 1.95), (32.3, 2.35), (15.3, 2.05),
    (19.5, 1.83), (30.4, 1.78), (31.2, 1.85), (35.7, 2.12), (38.2, 1.92), (36.5, 1.83),
    (2.2, 1.51), (7.26, 1.53), (12.06, 1.63), (48.2, 1.49), (42.2, 1.3), (51.0, 1.1),
    (4.2, -3.82), (3.45, -3.41), (3.45, -3.52), (2.0, -3.02), (6.07, -3.24), (7.1, -3.05),
    (6.0, -2.71), (8.5, -2.25), (12.3, -3.1), (12.5, -2.8), (16.4, -2.54), (19.1, -2.62),
    (22.8, -2.65), (30.0, -3.49), (32.1, -2.72), (36.4, -3.66), (35.6, -2.36), (31.1, -2.19),
    (0.1, -1.95), (11.3, -2.03), (13.8, -2.03), (10.4, -1.9), (10.9, -1.78), (19.6, -1.92),
    (21.8, -1.99), (24.7, -2.01), (26.1, -2.03), (1.36, -1.68), (1.7, -1.47), (23.7, -1.74),
    (24.3, -1.89), (24.5, -2.1), (30.0, -1.67), (36.7, -1.79), (15.7, -1.56), (15.8, -1.7),
]

# axis titles
conc_title_x = "Predicted concentration (mg/L)"
conc_title_y = "Observed concentration (mg/L)"
res_title_x = "Time after dose (h)"
res_title_y = "Conditional weighted residuals"


def from_cols(cols):
    return [(x, y) for x, ys in cols for y in ys]


def from_rows(rows):
    return [(x, y) for y, xs in rows for x in xs]


def panel(points, xdom, ydom, xvals, yvals, xtitle, ytitle, w, h, kind, ytitle_x):
    df = pd.DataFrame(points, columns=["x", "y"])
    xe = alt.X("x:Q", scale=alt.Scale(domain=xdom, nice=False, zero=False),
               axis=alt.Axis(values=xvals, title=xtitle, labelExpr="'' + datum.value"))
    ye = alt.Y("y:Q", scale=alt.Scale(domain=ydom, nice=False, zero=False),
               axis=alt.Axis(values=yvals, title=ytitle, labelExpr="'' + datum.value",
                             titleX=ytitle_x, titleY=h / 2))
    pts = alt.Chart(df).mark_point(shape="circle", filled=False, size=24, strokeWidth=0.9,
                                   color="#1e1e1e", opacity=1).encode(x=xe, y=ye)
    layers = [pts]
    if kind == "identity":
        ref = pd.DataFrame({"x": list(xdom), "y": list(xdom)})
        layers.append(alt.Chart(ref).mark_line(color="#3c3c3c", strokeWidth=1)
                      .encode(x=xe, y=ye))
    else:
        layers.append(alt.Chart(pd.DataFrame({"y": [0]}))
                      .mark_rule(color="#555555", strokeWidth=1.2).encode(y=ye))
        layers.append(alt.Chart(pd.DataFrame({"y": [-2, 2]}))
                      .mark_rule(color="#555555", strokeWidth=1, strokeDash=[3, 3])
                      .encode(y=ye))
    return alt.layer(*layers).properties(width=w, height=h)


pa = panel(a_outliers + from_rows(a_rows) + from_cols(a_core) + a_low + a_mid + a_high + a_band,
           [-0.47, 14.92], [-1.2, 39.3], list(range(0, 15, 2)), [0, 10, 20, 30],
           conc_title_x, conc_title_y, 340, 333, "identity", -25)
pb = panel(from_cols(b_col0) + b_early + from_cols(b_col12) + b_mid + from_cols(b_col24)
           + b_late + b_outliers,
           [-2.16, 55.8], [-4.256, 6.246], [0, 10, 20, 30, 40, 50], [-4, -2, 0, 2, 4, 6],
           res_title_x, res_title_y, 337, 333, "residual", -27)
pc = panel(from_cols(c_core) + c_points,
           [-0.41, 13.47], [-0.415, 13.7], list(range(0, 13, 2)), list(range(0, 13, 2)),
           conc_title_x, conc_title_y, 340, 335, "identity", -25)
pd_ = panel(from_cols(d_cols) + d_points + d_outliers,
            [-3.2, 83.1], [-4.155, 5.066], [0, 20, 40, 60, 80], [-4, -2, 0, 2, 4],
            res_title_x, res_title_y, 337, 335, "residual", -27)

chart = (
    alt.concat(pa, pb, pc, pd_, columns=2, spacing={"row": 67, "column": 69}, bounds="flush")
    .properties(padding=0)
    .configure(font=FONT)
    .configure_view(stroke="#5a5a5a", strokeWidth=1)
    .configure_axis(domain=False, grid=False, ticks=True, tickColor="#5a5a5a", tickSize=5,
                    tickWidth=1, labelFont=FONT, labelFontSize=14, labelColor="#1a1a1a",
                    titleFont=FONT, titleFontSize=16, titleFontWeight="normal",
                    titleColor="#1a1a1a", labelOverlap=False, labelFlush=False)
    .configure_axisX(labelAngle=0, labelAlign="center", labelBaseline="alphabetic",
                     labelPadding=14, titleBaseline="alphabetic", titleY=36.5)
    .configure_axisY(labelAngle=270, labelAlign="center", labelBaseline="alphabetic",
                     labelPadding=6.5, titleAngle=270, titleAlign="center",
                     titleBaseline="alphabetic")
)

chart.save("out.html", embed_options={"renderer": "svg", "actions": False})
